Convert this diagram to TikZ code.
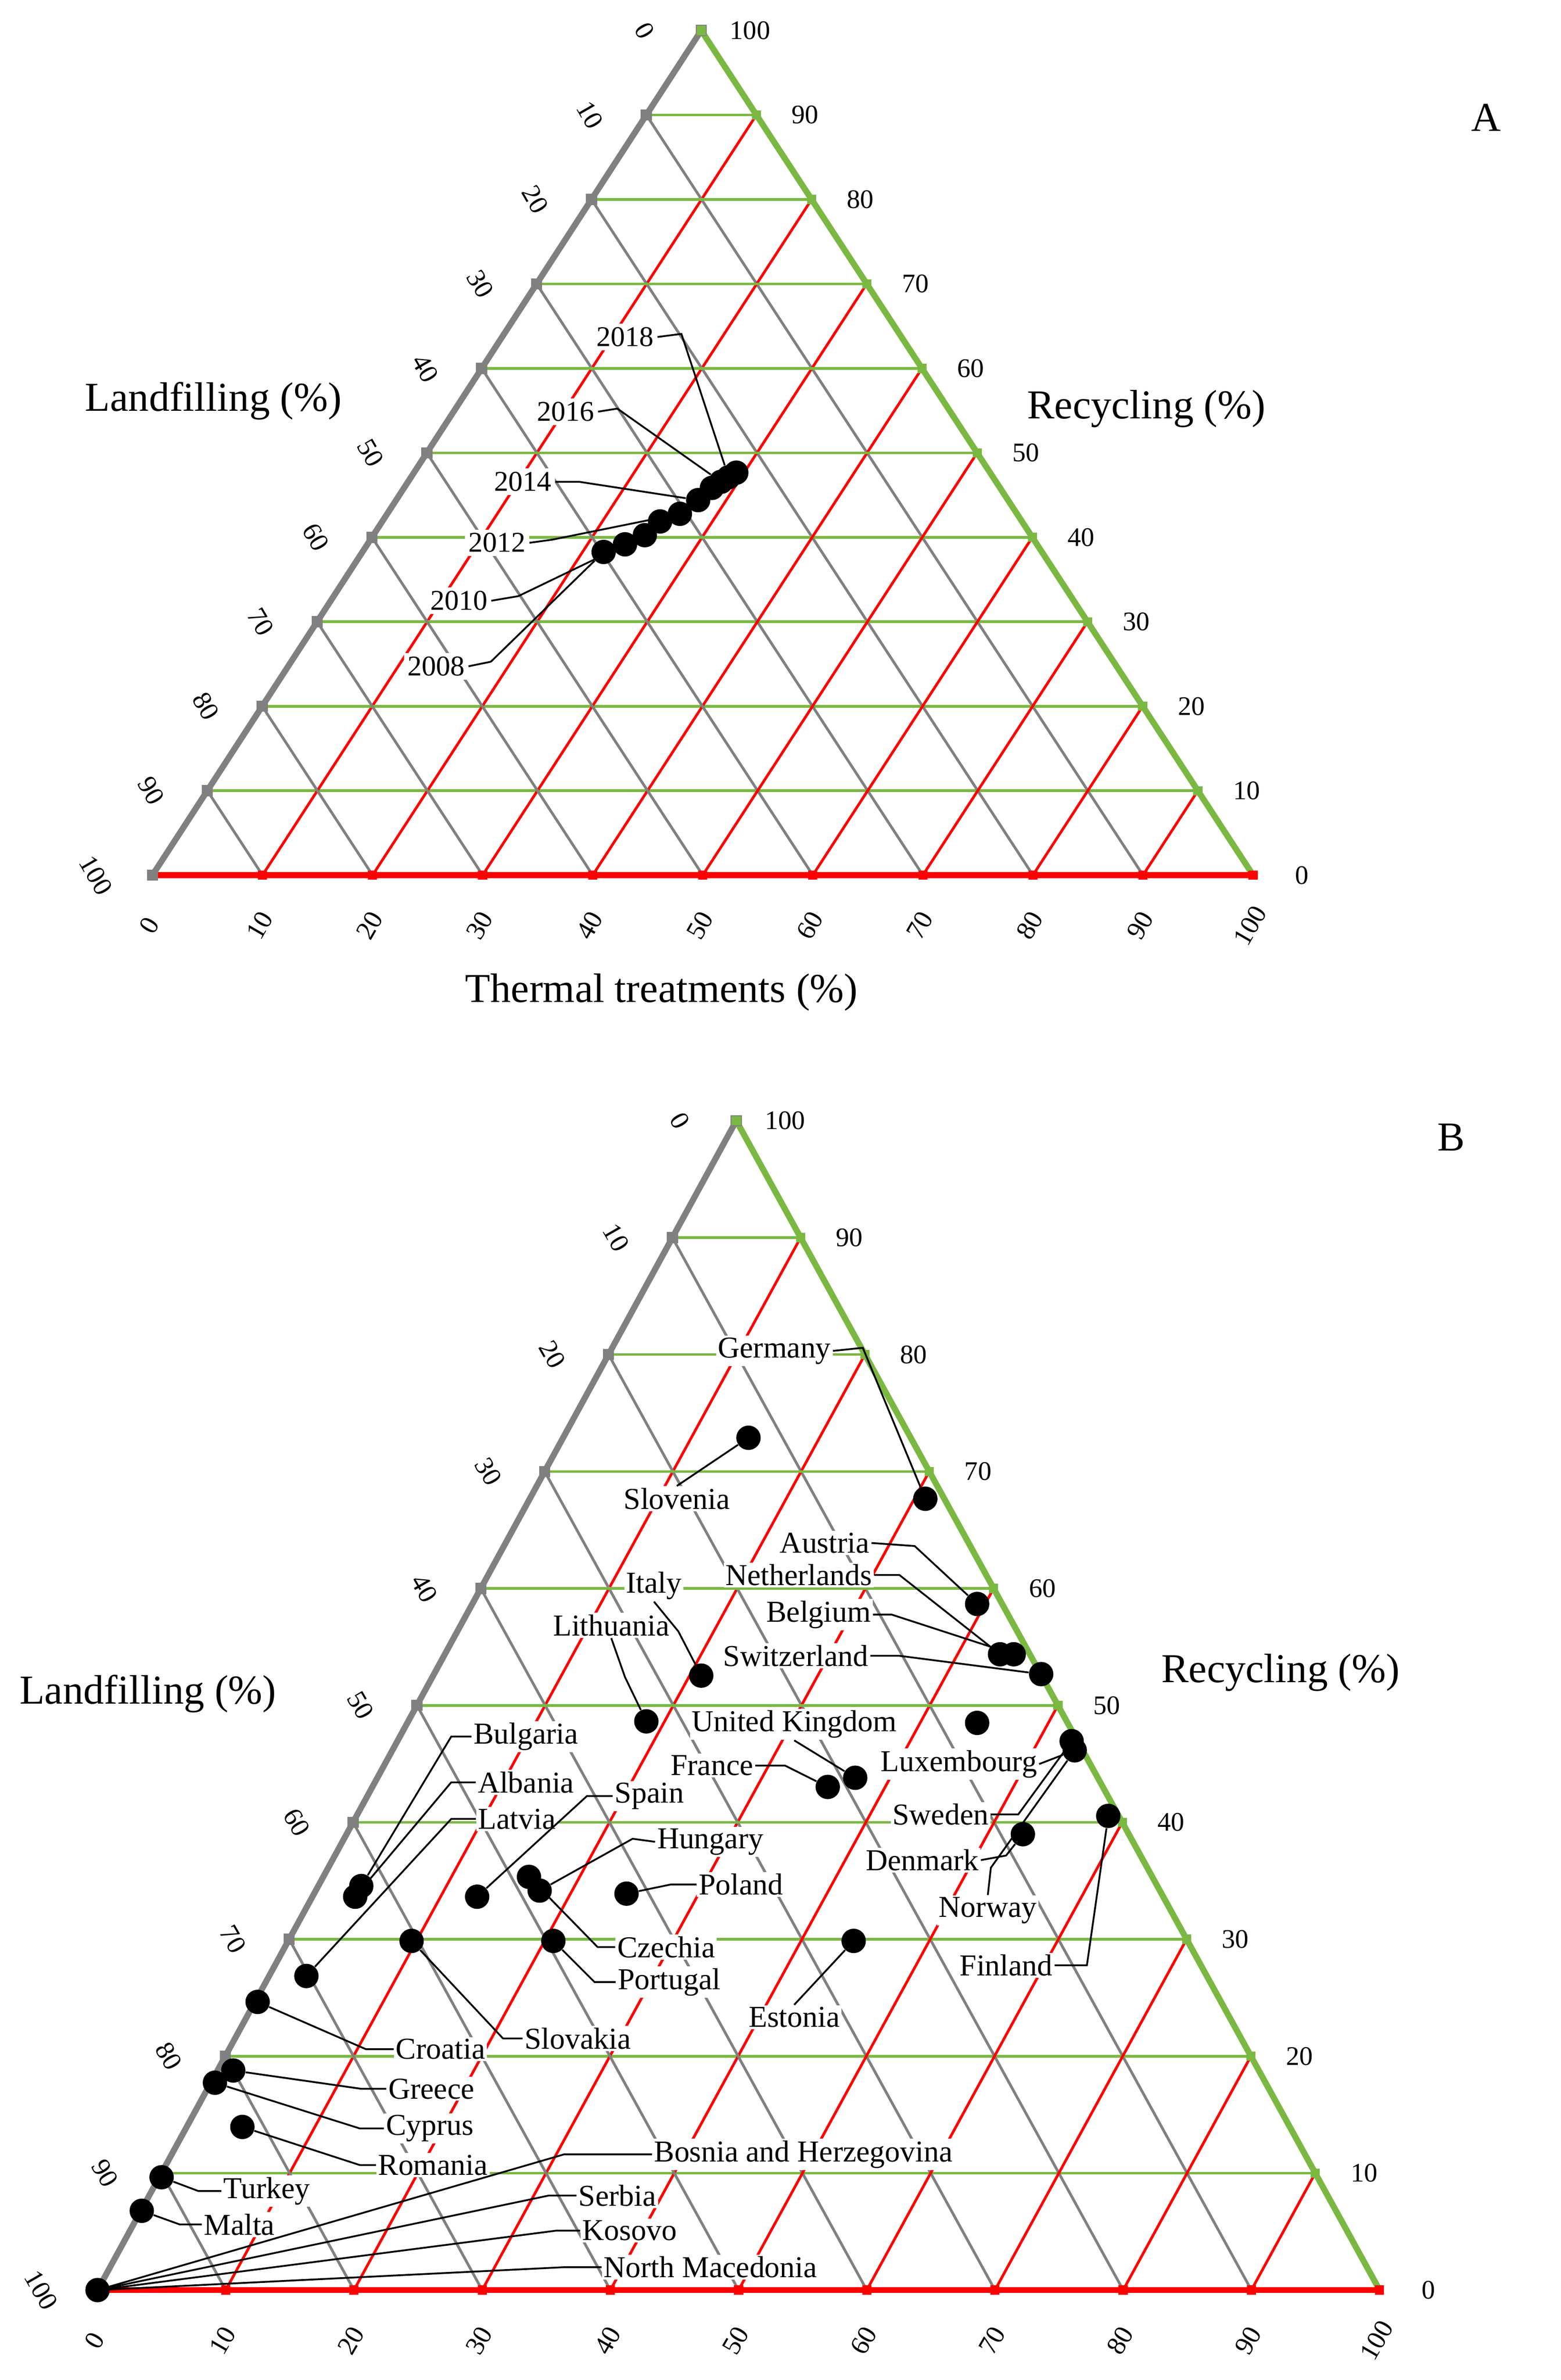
\documentclass[tikz,border=0pt]{standalone}
\usepackage{fontspec}
\setmainfont{Liberation Serif}
\begin{document}
\definecolor{tgreen}{RGB}{122,184,66}
\definecolor{tgray}{RGB}{128,128,128}
\begin{tikzpicture}[x=0.03cm,y=-0.03cm,
 gl/.style={tgreen,line width=1.5pt},
 rl/.style={red,line width=1.5pt},
 kl/.style={tgray,line width=1.5pt},
 tk/.style={rectangle,minimum size=0.22cm,inner sep=0},
 num/.style={font=\fontsize{15}{15}\selectfont,inner sep=1pt},
 lbl/.style={font=\fontsize{17}{17}\selectfont,fill=white,inner sep=1pt},
 lblA/.style={font=\fontsize{16}{16}\selectfont,fill=white,inner sep=2pt},
 ttl/.style={font=\fontsize{23}{23}\selectfont},
 pt/.style={circle,fill=black,minimum size=0.48cm,inner sep=0},
 ld/.style={black,line width=1pt}]
\path[use as bounding box,fill=white] (0,0) rectangle (1024,1561);
\newcommand\tern[7]{%
 \coordinate (BL#7) at (#1,#2); \coordinate (BR#7) at (#3,#4); \coordinate (TP#7) at (#5,#6);
 \foreach \v in {10,20,...,90}{\pgfmathsetmacro\a{\v/100}\pgfmathsetmacro\b{1-\a}
  \draw[gl] (barycentric cs:BL#7=\b,TP#7=\a) -- (barycentric cs:BR#7=\b,TP#7=\a);
  \draw[rl] (barycentric cs:BL#7=\b,BR#7=\a) -- (barycentric cs:TP#7=\b,BR#7=\a);
  \draw[kl] (barycentric cs:BL#7=\a,BR#7=\b) -- (barycentric cs:BL#7=\a,TP#7=\b);}
 \draw[tgray,line width=3.4pt] (BL#7) -- (TP#7);
 \draw[tgreen,line width=3.4pt] (TP#7) -- (BR#7);
 \draw[red,line width=3.4pt] (BL#7) -- (BR#7);
 \foreach \v in {0,10,...,100}{\pgfmathsetmacro\a{\v/100}\pgfmathsetmacro\b{1-\a}
  \path (barycentric cs:BL#7=\a,TP#7=\b) node[tk,fill=tgray] (lt#7\v) {} ++(-37,0) node[num,rotate=-60] (ln#7\v) {\v};
  \path (barycentric cs:TP#7=\a,BR#7=\b) node[tk,fill=tgreen,minimum size=0.18cm] (rt#7\v) {} ++(32,0) node[num] (rn#7\v) {\v};
  \path (barycentric cs:BR#7=\a,BL#7=\b) node[tk,fill=red,minimum size=0.18cm] (bt#7\v) {} ++(-2,33) node[num,rotate=60] (bn#7\v) {\v};}
}
% ---------- A
\tern{100}{574}{822}{574}{460}{20}{A}
\node[ttl] (tA) at (975,77) {A};
\node[ttl] (lA) at (140,263) {Landfilling (\%)};
\node[ttl] (rA) at (752,268) {Recycling (\%)};
\node[ttl] (thA) at (434,651) {Thermal treatments (\%)};
\foreach \i/\x/\y in {1/396/362,2/410/357,3/423/351,4/433/342,5/446/337,6/458/328,7/467/320,8/473/316,9/478/313,10/483/310}
 \node[pt] (a\i) at (\x,\y) {};
\node[lblA] (y18) at (410,221) {2018};
\node[lblA] (y16) at (371,270) {2016};
\node[lblA] (y14) at (343,316) {2014};
\node[lblA] (y12) at (326,356) {2012};
\node[lblA] (y10) at (301,394) {2010};
\node[lblA] (y08) at (286,437) {2008};
\draw[ld] (y18.east) -- (447,219) -- (a9);
\draw[ld] (y16.east) -- (405,268) -- (a8);
\draw[ld] (y14.east) -- (380,316) -- (a6);
\draw[ld] (y12.east) -- (362,354) -- (a5);
\draw[ld] (y10.east) -- (340,391) -- (a3);
\draw[ld] (y08.east) -- (322,434) -- (a1);
% ---------- B
\tern{64}{1502}{905}{1502}{483}{735}{B}
\node[ttl] (tB) at (952,746) {B};
\node[ttl] (lB) at (97,1111) {Landfilling (\%)};
\node[ttl] (rB) at (840,1097) {Recycling (\%)};
\foreach \n/\x/\y in {de/607/983,si/491/943,at/641/1052,nl/656/1085,be/665/1085,ch/683/1098,it/460/1099,lt/424/1129,xx/641/1130,
 uk/561/1166,fr/543/1172,lu/703/1142,se/705/1148,dk/671/1203,fi/727/1191,ee/560/1273,pl/411/1242,hu/347/1231,cz/354/1240,pt/363/1273,
 es/313/1244,sk/270/1273,bg/237/1237,al/233/1244,lv/201/1296,hr/169/1313,gr/153/1358,cy/141/1366,ro/159/1395,tr/106/1428,mt/93/1450,bh/64/1502}
 \node[pt] (p\n) at (\x,\y) {};
\node[lbl] (Lde) at (508,886) {Germany};
\node[lbl] (Lsi) at (444,983) {Slovenia};
\node[lbl] (Lat) at (541,1012) {Austria};
\node[lbl] (Lnl) at (524,1033) {Netherlands};
\node[lbl] (Lbe) at (537,1059) {Belgium};
\node[lbl] (Lch) at (522,1086) {Switzerland};
\node[lbl] (Lit) at (429,1040) {Italy};
\node[lbl] (Llt) at (401,1066) {Lithuania};
\node[lbl] (Luk) at (521,1131) {United Kingdom};
\node[lbl] (Lfr) at (467,1158) {France};
\node[lbl] (Llu) at (629,1157) {Luxembourg};
\node[lbl] (Lse) at (617,1190) {Sweden};
\node[lbl] (Ldk) at (605,1220) {Denmark};
\node[lbl] (Lno) at (648,1253) {Norway};
\node[lbl] (Lfi) at (660,1289) {Finland};
\node[lbl] (Lee) at (521,1323) {Estonia};
\node[lbl] (Lpl) at (486,1236) {Poland};
\node[lbl] (Lhu) at (466,1208) {Hungary};
\node[lbl] (Lcz) at (437,1277) {Czechia};
\node[lbl] (Lpt) at (439,1300) {Portugal};
\node[lbl] (Les) at (426,1178) {Spain};
\node[lbl] (Lsk) at (379,1337) {Slovakia};
\node[lbl] (Lbg) at (345,1139) {Bulgaria};
\node[lbl] (Lal) at (345,1169) {Albania};
\node[lbl] (Llv) at (339,1193) {Latvia};
\node[lbl] (Lhr) at (289,1344) {Croatia};
\node[lbl] (Lgr) at (283,1370) {Greece};
\node[lbl] (Lcy) at (282,1396) {Cyprus};
\node[lbl] (Lro) at (284,1420) {Romania};
\node[lbl] (Ltr) at (175,1437) {Turkey};
\node[lbl] (Lmt) at (157,1459) {Malta};
\node[lbl] (Lbh) at (527,1413) {Bosnia and Herzegovina};
\node[lbl] (Lrs) at (405,1440) {Serbia};
\node[lbl] (Lxk) at (413,1463) {Kosovo};
\node[lbl] (Lmk) at (466,1487) {North Macedonia};
\draw[ld] (Lde.east) -- (566,884) -- (pde);
\draw[ld] (Lsi.north) -- (psi);
\draw[ld] (Lat.east) -- (600,1014) -- (pat);
\draw[ld] (Lnl.east) -- (590,1033) -- (pnl);
\draw[ld] (Lbe.east) -- (585,1059) -- (pbe);
\draw[ld] (Lch.east) -- (590,1086) -- (pch);
\draw[ld] (Lit.south) -- (445,1070) -- (pit);
\draw[ld] (Llt.south) -- (410,1100) -- (plt);
\draw[ld] (Luk.south) -- (puk);
\draw[ld] (Lfr.east) -- (515,1158) -- (pfr);
\draw[ld] (Llu.east) -- (pse);
\draw[ld] (Lse.east) -- (668,1190) -- (plu);
\draw[ld] (Ldk.east) -- (660,1217) -- (pdk);
\draw[ld] (Lno.north) -- (650,1225) -- (pse);
\draw[ld] (Lfi.east) -- (713,1289) -- (pfi);
\draw[ld] (Lee.north) -- (pee);
\draw[ld] (Lpl.west) -- (440,1236) -- (ppl);
\draw[ld] (Lhu.west) -- (415,1206) -- (pcz);
\draw[ld] (Lcz.west) -- (392,1277) -- (phu);
\draw[ld] (Lpt.west) -- (390,1300) -- (ppt);
\draw[ld] (Les.west) -- (385,1178) -- (pes);
\draw[ld] (Lsk.west) -- (330,1337) -- (psk);
\draw[ld] (Lbg.west) -- (296,1139) -- (pbg);
\draw[ld] (Lal.west) -- (296,1169) -- (pal);
\draw[ld] (Llv.west) -- (296,1193) -- (plv);
\draw[ld] (Lhr.west) -- (240,1344) -- (phr);
\draw[ld] (Lgr.west) -- (237,1370) -- (pgr);
\draw[ld] (Lcy.west) -- (236,1396) -- (pcy);
\draw[ld] (Lro.west) -- (236,1420) -- (pro);
\draw[ld] (Ltr.west) -- (130,1437) -- (ptr);
\draw[ld] (Lmt.west) -- (118,1459) -- (pmt);
\draw[ld] (Lbh.west) -- (370,1413) -- (pbh.center);
\draw[ld] (Lrs.west) -- (360,1440) -- (pbh.center);
\draw[ld] (Lxk.west) -- (365,1463) -- (pbh.center);
\draw[ld] (Lmk.west) -- (370,1487) -- (pbh.center);
\end{tikzpicture}
\end{document}
